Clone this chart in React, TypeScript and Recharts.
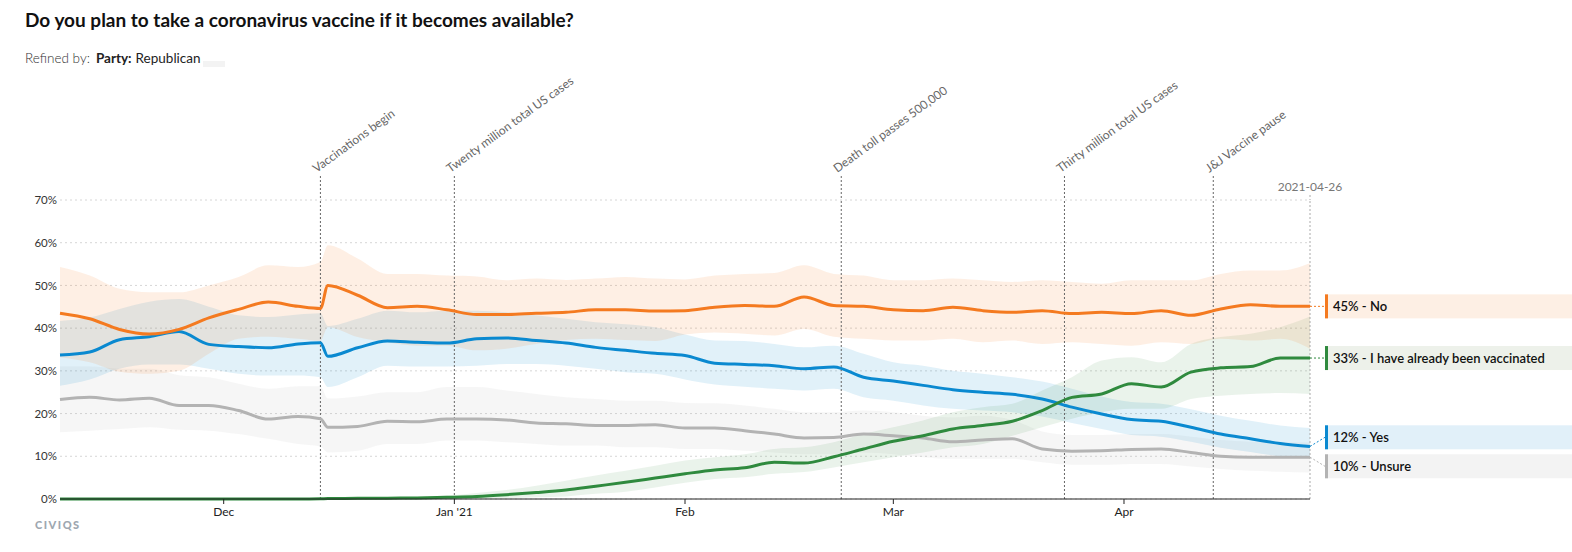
import {
  ComposedChart,
  Area,
  Line,
  XAxis,
  YAxis,
  CartesianGrid,
  ReferenceLine,
  ReferenceDot,
} from "recharts";

// day offsets from the first poll date
const START = "2020-11-09";
const days = [
  0, 4, 8, 12, 16, 20, 24, 28, 32,
  35, 36,
  40, 44, 48, 52, 56, 60, 64, 68, 72, 76, 80,
  84, 88, 92, 96, 100, 104, 108, 112, 116, 120, 124,
  128, 132, 136, 140, 144, 148, 152, 156, 160, 164, 168,
];

const noLine = [
  43.5, 42.2, 39.7, 38.6, 39.7, 42.4, 44.4, 46.1, 45.1,
  44.6, 50.0,
  47.7, 44.8, 45.1, 44.3, 43.2, 43.2, 43.5, 43.7, 44.3, 44.3, 44.0,
  44.1, 44.9, 45.3, 45.1, 47.3, 45.3, 45.1, 44.3, 44.1, 44.9, 44.1,
  43.7, 44.1, 43.4, 43.7, 43.4, 44.1, 43.0, 44.5, 45.5, 45.1, 45.1,
];
const noHi = [
  54.3, 52.3, 49.2, 48.4, 48.4, 50.0, 52.0, 54.7, 54.3,
  55.5, 59.4,
  56.3, 52.7, 52.7, 52.3, 52.1, 51.2, 51.6, 51.3, 51.6, 52.0, 51.6,
  51.4, 52.3, 52.7, 52.9, 54.7, 52.7, 52.3, 51.2, 51.2, 51.6, 51.2,
  50.8, 51.2, 50.8, 50.4, 51.2, 51.2, 51.2, 52.7, 53.5, 53.5, 55.2,
];
const noLo = [
  33.2, 32.0, 29.8, 29.3, 30.0, 34.0, 37.5, 38.0, 37.5,
  37.0, 40.2,
  37.9, 36.7, 35.9, 35.9, 34.8, 35.2, 36.3, 37.2, 37.5, 37.2, 37.0,
  38.5, 39.0, 38.7, 38.3, 39.8, 38.0, 37.5, 37.1, 37.1, 37.5, 36.7,
  37.1, 36.3, 36.7, 36.3, 35.9, 36.7, 36.3, 37.5, 37.1, 37.5, 35.2,
];

const yesLine = [
  33.7, 34.4, 37.3, 38.0, 39.2, 36.2, 35.7, 35.4, 36.3,
  36.6, 33.4,
  35.4, 37.0, 36.7, 36.5, 37.5, 37.7, 37.1, 36.5, 35.5, 34.8, 34.1,
  33.6, 31.8, 31.5, 31.2, 30.5, 30.9, 28.5, 27.6, 26.6, 25.6, 25.0,
  24.5, 23.4, 21.5, 19.9, 18.6, 18.2, 16.8, 15.2, 14.1, 13.0, 12.3,
];
const yesHi = [
  41.7, 42.5, 44.5, 46.2, 46.8, 45.0, 43.0, 42.6, 43.2,
  43.5, 40.5,
  42.2, 44.1, 43.7, 44.1, 44.1, 43.7, 43.0, 42.2, 41.4, 40.9, 40.2,
  38.5, 37.1, 37.0, 36.3, 35.5, 35.9, 34.0, 32.0, 31.2, 30.0, 29.3,
  28.5, 27.5, 25.8, 24.0, 22.7, 22.3, 21.0, 19.5, 18.3, 17.2, 16.6,
];
const yesLo = [
  26.5, 28.0, 30.5, 31.5, 31.5, 30.5, 29.3, 28.9, 28.9,
  28.5, 26.2,
  28.5, 31.2, 31.0, 31.0, 31.2, 31.6, 31.6, 31.2, 30.5, 29.7, 29.3,
  28.0, 26.8, 26.3, 25.8, 25.4, 25.8, 23.8, 23.0, 21.9, 21.1, 20.7,
  20.3, 19.3, 17.8, 16.4, 15.0, 14.6, 13.4, 12.0, 11.0, 10.0, 9.6,
];

const unsLine = [
  23.3, 23.8, 23.2, 23.6, 21.9, 21.9, 20.7, 18.7, 19.3,
  18.8, 16.8,
  17.0, 18.2, 18.1, 18.7, 18.7, 18.5, 17.8, 17.6, 17.2, 17.2, 17.4,
  16.6, 16.6, 16.0, 15.2, 14.3, 14.4, 15.2, 14.8, 14.3, 13.4, 13.8,
  14.1, 11.7, 11.2, 11.3, 11.6, 11.7, 10.9, 10.0, 9.8, 9.8, 9.8,
];
const unsHi = [
  31.0, 31.0, 30.5, 30.5, 29.0, 28.5, 27.0, 25.8, 26.4,
  26.4, 23.5,
  24.0, 25.0, 25.0, 26.2, 26.2, 25.4, 24.6, 23.8, 23.4, 23.0, 23.0,
  22.5, 22.4, 21.9, 21.1, 20.3, 20.3, 20.7, 20.3, 19.5, 19.1, 19.5,
  18.5, 15.8, 15.0, 15.0, 15.2, 15.2, 14.6, 13.8, 13.4, 13.2, 13.2,
];
const unsLo = [
  15.6, 16.0, 16.4, 16.8, 16.2, 16.0, 15.2, 14.1, 12.9,
  12.3, 10.9,
  11.3, 12.9, 12.9, 13.7, 13.7, 13.3, 12.9, 12.5, 12.5, 12.1, 12.1,
  11.7, 11.7, 11.3, 10.9, 10.5, 10.5, 10.9, 10.5, 9.8, 9.4, 9.4,
  9.4, 8.6, 8.0, 8.0, 8.2, 8.2, 7.6, 7.0, 6.6, 6.4, 6.2,
];

const vacLine = [
  0, 0, 0, 0, 0, 0, 0, 0, 0,
  0.05, 0.1,
  0.15, 0.2, 0.25, 0.4, 0.6, 1.0, 1.5, 2.1, 3.0, 3.9, 4.9,
  5.9, 6.8, 7.3, 8.6, 8.4, 9.9, 11.7, 13.5, 14.8, 16.4, 17.2,
  18.2, 20.7, 23.8, 24.6, 27.0, 26.2, 29.7, 30.7, 31.0, 33.0, 33.0,
];
const vacHi = [
  0, 0, 0, 0, 0, 0, 0, 0, 0,
  0.1, 0.2,
  0.3, 0.4, 0.5, 0.8, 1.4, 2.1, 3.1, 4.3, 5.5, 6.6, 7.8,
  9.0, 9.8, 10.5, 11.7, 12.1, 13.3, 15.2, 16.8, 18.4, 20.3, 21.5,
  22.3, 25.4, 28.5, 32.4, 33.2, 32.0, 36.3, 37.9, 38.7, 40.2, 42.7,
];
const vacLo = [
  0, 0, 0, 0, 0, 0, 0, 0, 0,
  0, 0,
  0, 0, 0, 0, 0, 0.2, 0.4, 0.6, 1.2, 1.7, 2.7,
  3.8, 4.7, 5.1, 5.9, 6.3, 7.4, 8.6, 9.8, 10.9, 12.1, 12.9,
  14.8, 16.8, 18.8, 20.3, 21.1, 21.1, 23.4, 24.2, 24.6, 24.8, 24.6,
];

const monthTicks = [22, 53, 84, 112, 143];
const monthLabels = ["Dec", "Jan '21", "Feb", "Mar", "Apr"];
const yTicks = [0, 10, 20, 30, 40, 50, 60, 70];

const events = [
  { day: 35, text: "Vaccinations begin" },
  { day: 53, text: "Twenty million total US cases" },
  { day: 105, text: "Death toll passes 500,000" },
  { day: 135, text: "Thirty million total US cases" },
  { day: 155, text: "J&J Vaccine pause" },
];

const NO = "#f47a20";
const YES = "#0a89d0";
const VAC = "#2f8a3e";
const UNS = "#b3b3b3";

const data = days.map((d, i) => ({
  day: d,
  no: noLine[i],
  noBand: [noLo[i], noHi[i]],
  yes: yesLine[i],
  yesBand: [yesLo[i], yesHi[i]],
  uns: unsLine[i],
  unsBand: [unsLo[i], unsHi[i]],
  vac: vacLine[i],
  vacBand: [vacLo[i], vacHi[i]],
}));

const W = 1572;
const H = 552;
const M = { top: 200, right: 262, bottom: 23, left: 20 };
const X_AXIS_H = 30;
const PX_PER_PCT = (H - M.top - M.bottom - X_AXIS_H) / 70;
const LAST = days[days.length - 1];

function dayToIso(d: number) {
  const t = new Date(START + "T00:00:00Z");
  t.setUTCDate(t.getUTCDate() + d);
  return t.toISOString().slice(0, 10);
}

const endLabels = [
  { name: "No", value: noLine[noLine.length - 1], color: NO, fill: "#fdefe4" },
  { name: "I have already been vaccinated", value: vacLine[vacLine.length - 1], color: VAC, fill: "#edf1ea" },
  { name: "Yes", value: yesLine[yesLine.length - 1], color: YES, fill: "#e1f0f9" },
  { name: "Unsure", value: unsLine[unsLine.length - 1], color: UNS, fill: "#f3f3f3" },
];

// push overlapping end labels apart (pixel nudges, + is down)
function labelNudges(vals: number[], gap: number) {
  const items = vals.map((v, i) => ({ i, y: -v * PX_PER_PCT, y0: -v * PX_PER_PCT }));
  items.sort((a, b) => a.y - b.y);
  for (let it = 0; it < 20; it++) {
    for (let k = 1; k < items.length; k++) {
      const over = gap - (items[k].y - items[k - 1].y);
      if (over > 0) {
        items[k - 1].y -= over / 2;
        items[k].y += over / 2;
      }
    }
  }
  const out: number[] = [];
  items.forEach((o) => (out[o.i] = o.y - o.y0));
  return out;
}
const nudges = labelNudges(endLabels.map((l) => l.value), 29);

const EventLabel = ({ viewBox, text }: any) => {
  const x = viewBox.x;
  const top = viewBox.y;
  return (
    <g>
      <line x1={x} x2={x} y1={top - 24} y2={top} stroke="#666" strokeDasharray="2 2" />
      <text
        transform={`translate(${x - 4},${top - 27}) rotate(-36)`}
        fontFamily="Lato"
        fontSize={12}
        fill="#666"
      >
        {text}
      </text>
    </g>
  );
};

const EndDateLabel = ({ viewBox, text }: any) => {
  const x = viewBox.x;
  const top = viewBox.y;
  return (
    <g>
      <line x1={x} x2={x} y1={top - 5} y2={top} stroke="#aaa" strokeDasharray="2 2" />
      <text x={x} y={top - 9} textAnchor="middle" fontFamily="Lato" fontSize={12} fill="#777">
        {text}
      </text>
    </g>
  );
};

const EndLabel = ({ cx, cy, label, nudge }: any) => {
  const bx = cx + 15;
  const by = cy + nudge;
  return (
    <g>
      <line x1={cx} y1={cy} x2={bx} y2={by} stroke={label.color} strokeDasharray="2 2" />
      <rect x={bx} y={by - 12} width={W - bx} height={24} fill={label.fill} />
      <rect x={bx} y={by - 12} width={3} height={24} fill={label.color} />
      <text x={bx + 8} y={by + 4.5} fontFamily="Lato" fontSize={13} fontWeight={600} fill="#111">
        {`${Math.round(label.value)}% - ${label.name}`}
      </text>
    </g>
  );
};

export default function App() {
  return (
    <div
      style={{
        position: "absolute",
        left: 0,
        top: 0,
        width: W,
        height: H,
        background: "#fff",
        fontFamily: "Lato, sans-serif",
      }}
    >
      <div
        style={{
          position: "absolute",
          left: 25,
          top: 8,
          fontSize: 19,
          fontWeight: 700,
          color: "#111",
          whiteSpace: "nowrap",
        }}
      >
        Do you plan to take a coronavirus vaccine if it becomes available?
      </div>
      <div
        style={{
          position: "absolute",
          left: 25,
          top: 49,
          fontSize: 13.5,
          color: "#333",
          whiteSpace: "nowrap",
          display: "flex",
          alignItems: "center",
        }}
      >
        <span style={{ fontWeight: 300 }}>Refined by:</span>
        <span style={{ fontWeight: 700, color: "#222", marginLeft: 6 }}>Party:</span>
        <span style={{ color: "#222", marginLeft: 4 }}>Republican</span>
        <span style={{ width: 22, height: 6, background: "#f3f3f3", marginLeft: 2, marginTop: 12 }} />
      </div>
      <div
        style={{
          position: "absolute",
          left: 35,
          top: 518,
          fontSize: 11,
          fontWeight: 900,
          letterSpacing: 1.5,
          color: "#9ea7b0",
        }}
      >
        CIVIQS
      </div>
      <div style={{ position: "absolute", left: 0, top: 0 }}>
        <ComposedChart width={W} height={H} data={data} margin={M}>
          <CartesianGrid vertical={false} stroke="#d6d6d6" strokeDasharray="2 3" />
          <XAxis
            dataKey="day"
            type="number"
            domain={[0, LAST]}
            ticks={monthTicks}
            tickFormatter={(v: number) => monthLabels[monthTicks.indexOf(v)]}
            height={X_AXIS_H}
            axisLine={{ stroke: "#222" }}
            tickLine={{ stroke: "#222" }}
            tickSize={5}
            tickMargin={3}
            tick={{ fontFamily: "Lato", fontSize: 12, fill: "#222" }}
          />
          <YAxis
            domain={[0, 70]}
            ticks={yTicks}
            width={40}
            axisLine={false}
            tickLine={false}
            tickSize={0}
            tickMargin={3}
            tickFormatter={(v: number) => `${v}%`}
            tick={{ fontFamily: "Lato", fontSize: 11.5, fill: "#333" }}
          />
          <Area dataKey="unsBand" type="monotone" stroke="none" fill="#aaa" fillOpacity={0.1} dot={false} activeDot={false} isAnimationActive={false} />
          <Area dataKey="yesBand" type="monotone" stroke="none" fill={YES} fillOpacity={0.12} dot={false} activeDot={false} isAnimationActive={false} />
          <Area dataKey="vacBand" type="monotone" stroke="none" fill={VAC} fillOpacity={0.1} dot={false} activeDot={false} isAnimationActive={false} />
          <Area dataKey="noBand" type="monotone" stroke="none" fill={NO} fillOpacity={0.12} dot={false} activeDot={false} isAnimationActive={false} />
          {events.map((e) => (
            <ReferenceLine
              key={e.day}
              x={e.day}
              stroke="#666"
              strokeDasharray="2 2"
              label={<EventLabel text={e.text} />}
            />
          ))}
          <ReferenceLine
            x={LAST}
            stroke="#aaa"
            strokeDasharray="2 2"
            label={<EndDateLabel text={dayToIso(LAST)} />}
          />
          <Line dataKey="uns" type="monotone" stroke={UNS} strokeWidth={3} dot={false} activeDot={false} isAnimationActive={false} />
          <Line dataKey="yes" type="monotone" stroke={YES} strokeWidth={3} dot={false} activeDot={false} isAnimationActive={false} />
          <Line dataKey="vac" type="monotone" stroke={VAC} strokeWidth={3} dot={false} activeDot={false} isAnimationActive={false} />
          <Line dataKey="no" type="monotone" stroke={NO} strokeWidth={3} dot={false} activeDot={false} isAnimationActive={false} />
          {endLabels.map((l, i) => (
            <ReferenceDot
              key={l.name}
              x={LAST}
              y={l.value}
              r={0}
              ifOverflow="visible"
              shape={(p: any) => <EndLabel {...p} label={l} nudge={nudges[i]} />}
            />
          ))}
        </ComposedChart>
      </div>
    </div>
  );
}
